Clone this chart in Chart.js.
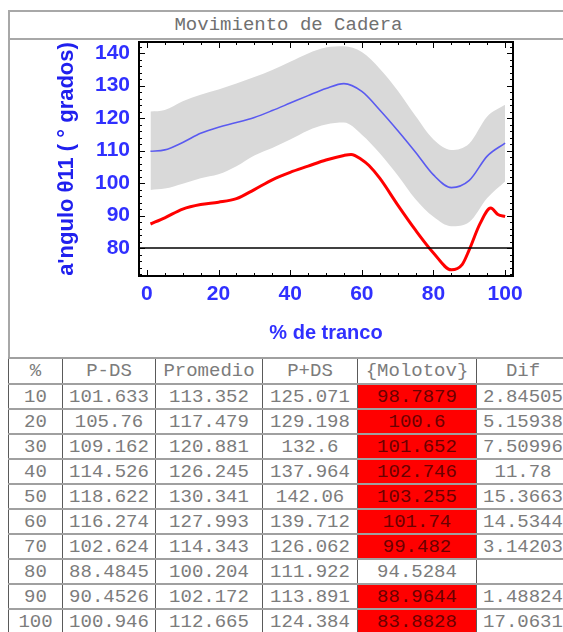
<!DOCTYPE html>
<html>
<head>
<meta charset="utf-8">
<script src="https://cdn.jsdelivr.net/npm/chart.js@4.4.1/dist/chart.umd.min.js"></script>
<style>
  body { margin: 0; background: #fff; width: 563px; height: 632px; overflow: hidden; }
  #sheet { position: absolute; left: 8px; top: 10px; width: 561px; }
  #title {
    height: 26px; border: 2px solid #a8a8a8; border-bottom: none;
    font: 19px "Liberation Mono", "Courier New", monospace; color: #707070;
    text-align: center; line-height: 26px;
  }
  #plotCell { height: 317px; border: 2px solid #a8a8a8; border-bottom: none; }
  #plotCell canvas { display: block; }
  table {
    border-collapse: collapse; table-layout: fixed; width: 561px;
    font: 19px "Liberation Mono", "Courier New", monospace; color: #7c7c7c;
  }
  td {
    text-align: center; padding: 0; white-space: nowrap; overflow: hidden;
    border-top: 2px solid #a0a0a0; border-bottom: 2px solid #a0a0a0;
    border-left: 1px solid #5a5a5a; border-right: 1px solid #5a5a5a;
  }
  tr.head td { height: 24px; }
  tr.row td { height: 23px; }
  td.hot { background: #ff0000; color: #6b0000; }
</style>
</head>
<body>
<div id="sheet">
  <div id="title">Movimiento de Cadera</div>
  <div id="plotCell"><canvas id="hip-chart" width="559" height="317"></canvas></div>
  <table id="hip-table"></table>
</div>
<script>
// Curvas del gráfico (% de tranco en x, ángulo en y)
const stancePct = [1, 5, 10, 15, 20, 25, 30, 35, 40, 45, 50, 55, 60, 65, 70, 75, 80, 85, 90, 95, 100];
const meanAngle = [109.8, 110.2, 112.5, 115.3, 117.2, 118.6, 120.2, 122.3, 124.6, 126.9, 129.1, 130.6, 128.2, 122.5, 116.2, 109.5, 102.5, 98.6, 100.8, 108.3, 112.3];
const upperAngle = [122, 122.5, 125.2, 127.2, 128.8, 130.6, 132.6, 134.8, 137.3, 139.9, 141.7, 142.1, 140.3, 135.2, 128.5, 120.6, 113.4, 110.2, 112.2, 120.5, 124.1];
const lowerAngle = [97.9, 98.3, 99.8, 101.5, 102.7, 105.2, 108.5, 110.8, 113.4, 116.2, 118, 118.6, 114.9, 109.2, 102.4, 95, 89.6, 86.7, 88, 95.4, 100.5];

const molotovPct = [1, 5, 10, 15, 20, 25, 30, 35, 40, 45, 50, 55, 57, 60, 62, 65, 70, 75, 80, 85, 88, 90, 93, 96, 98, 100];
const molotovAngle = [87.4, 89.3, 92, 93.4, 94.1, 95.2, 98, 101, 103.3, 105.2, 107.1, 108.5, 108.8, 107.2, 105.4, 101.5, 93.3, 85.5, 78.5, 73.3, 74.9, 79.5, 87.5, 92.3, 90.3, 89.7];

const xTicks = [0, 20, 40, 60, 80, 100];
const yTicks = [80, 90, 100, 110, 120, 130, 140];
const refLevel = 80;

// Tabla de valores
const tableHeader = ['%', 'P-DS', 'Promedio', 'P+DS', '{Molotov}', 'Dif'];
const tablePct = ['10', '20', '30', '40', '50', '60', '70', '80', '90', '100'];
const tableMinus = ['101.633', '105.76', '109.162', '114.526', '118.622', '116.274', '102.624', '88.4845', '90.4526', '100.946'];
const tableMean = ['113.352', '117.479', '120.881', '126.245', '130.341', '127.993', '114.343', '100.204', '102.172', '112.665'];
const tablePlus = ['125.071', '129.198', '132.6', '137.964', '142.06', '139.712', '126.062', '111.922', '113.891', '124.384'];
const tableMolotov = ['98.7879', '100.6', '101.652', '102.746', '103.255', '101.74', '99.482', '94.5284', '88.9644', '83.8828'];
const tableDif = ['2.84505', '5.15938', '7.50996', '11.78', '15.3663', '14.5344', '3.14203', '', '1.48824', '17.0631'];
const colWidths = [54, 93, 107, 95, 119, 93];

const BLUE = '#3030ff';

function buildTable() {
    const table = document.getElementById('hip-table');
    const cg = document.createElement('colgroup');
    colWidths.forEach(w => {
        const c = document.createElement('col');
        c.style.width = w + 'px';
        cg.appendChild(c);
    });
    table.appendChild(cg);

    const head = document.createElement('tr');
    head.className = 'head';
    tableHeader.forEach(h => {
        const td = document.createElement('td');
        td.textContent = h;
        head.appendChild(td);
    });
    table.appendChild(head);

    tablePct.forEach((p, i) => {
        const tr = document.createElement('tr');
        tr.className = 'row';
        const cells = [p, tableMinus[i], tableMean[i], tablePlus[i], tableMolotov[i], tableDif[i]];
        cells.forEach((v, j) => {
            const td = document.createElement('td');
            td.textContent = v;
            // Molotov en rojo cuando queda por debajo de P-DS
            if (j === 4 && tableDif[i] !== '') td.className = 'hot';
            tr.appendChild(td);
        });
        table.appendChild(tr);
    });
}

// Marco negro con marcas hacia dentro y línea de referencia
const framePlugin = {
    id: 'framePlugin',
    afterDatasetsDraw(chart) {
        const {ctx, chartArea: a, scales: {x, y}} = chart;
        ctx.save();
        ctx.strokeStyle = '#000';
        ctx.lineWidth = 1.6;
        const ry = y.getPixelForValue(refLevel);
        ctx.beginPath();
        ctx.moveTo(a.left, ry);
        ctx.lineTo(a.right, ry);
        ctx.stroke();

        ctx.lineWidth = 1;
        ctx.beginPath();
        for (let v = 0; v <= 100; v += 5) {
            const px = Math.round(x.getPixelForValue(v)) + 0.5;
            const len = v % 20 === 0 ? 6 : 3;
            ctx.moveTo(px, a.bottom); ctx.lineTo(px, a.bottom - len);
            ctx.moveTo(px, a.top); ctx.lineTo(px, a.top + len);
        }
        for (let v = 72; v <= 142; v += 2) {
            const py = Math.round(y.getPixelForValue(v)) + 0.5;
            const len = v % 10 === 0 ? 6 : 3;
            ctx.moveTo(a.left, py); ctx.lineTo(a.left + len, py);
            ctx.moveTo(a.right, py); ctx.lineTo(a.right - len, py);
        }
        ctx.stroke();

        ctx.lineWidth = 2;
        ctx.strokeRect(a.left, a.top, a.right - a.left, a.bottom - a.top);
        ctx.restore();
    }
};

function noPadding(s) {
    s.paddingTop = 0;
    s.paddingBottom = 0;
    s.paddingLeft = 0;
    s.paddingRight = 0;
}

function initChart() {
    const toPts = (xs, ys) => xs.map((v, i) => ({x: v, y: ys[i]}));
    const ctx = document.getElementById('hip-chart').getContext('2d');
    new Chart(ctx, {
        type: 'line',
        data: {
            datasets: [
                {
                    data: toPts(stancePct, upperAngle),
                    borderWidth: 0,
                    borderColor: 'rgba(0,0,0,0)',
                    pointRadius: 0,
                    fill: false,
                    order: 10,
                    cubicInterpolationMode: 'monotone'
                },
                {
                    data: toPts(stancePct, lowerAngle),
                    borderWidth: 0,
                    borderColor: 'rgba(0,0,0,0)',
                    backgroundColor: '#d9d9d9',
                    pointRadius: 0,
                    fill: '-1',
                    order: 9,
                    cubicInterpolationMode: 'monotone'
                },
                {
                    data: toPts(stancePct, meanAngle),
                    borderWidth: 1.6,
                    borderColor: '#5a5af0',
                    pointRadius: 0,
                    fill: false,
                    order: 1,
                    cubicInterpolationMode: 'monotone'
                },
                {
                    data: toPts(molotovPct, molotovAngle),
                    borderWidth: 3,
                    borderColor: '#ff0000',
                    pointRadius: 0,
                    fill: false,
                    order: 0,
                    cubicInterpolationMode: 'monotone'
                }
            ]
        },
        options: {
            responsive: false,
            animation: false,
            devicePixelRatio: 1,
            layout: { padding: { top: 2, right: 56, left: 0, bottom: 0 } },
            plugins: { legend: { display: false }, tooltip: { enabled: false } },
            scales: {
                x: {
                    type: 'linear',
                    min: -2.2,
                    max: 102.2,
                    afterBuildTicks: s => { s.ticks = xTicks.map(v => ({value: v})); },
                    afterFit: s => { s.height = 81; noPadding(s); },
                    grid: { display: false, drawTicks: false },
                    border: { display: false },
                    ticks: {
                        padding: 6,
                        color: BLUE,
                        font: { family: 'Liberation Sans', size: 21, weight: 'bold' }
                    },
                    title: {
                        display: true,
                        text: '% de tranco',
                        color: BLUE,
                        padding: { top: 0, bottom: 12 },
                        font: { family: 'Liberation Sans', size: 20, weight: 'bold' }
                    }
                },
                y: {
                    type: 'linear',
                    min: 71.4,
                    max: 143.4,
                    afterBuildTicks: s => { s.ticks = yTicks.map(v => ({value: v})); },
                    afterFit: s => { s.width = 129; noPadding(s); },
                    grid: { display: false, drawTicks: false },
                    border: { display: false },
                    ticks: {
                        padding: 9,
                        color: BLUE,
                        font: { family: 'Liberation Sans', size: 21, weight: 'bold' }
                    },
                    title: {
                        display: true,
                        text: "a'ngulo θ11 ( ° grados)",
                        color: '#2020ee',
                        padding: { top: 46, bottom: 0 },
                        font: { family: 'Liberation Sans', size: 22, weight: 'bold', lineHeight: 1 }
                    }
                }
            }
        },
        plugins: [framePlugin]
    });
}

buildTable();
initChart();
</script>
</body>
</html>
